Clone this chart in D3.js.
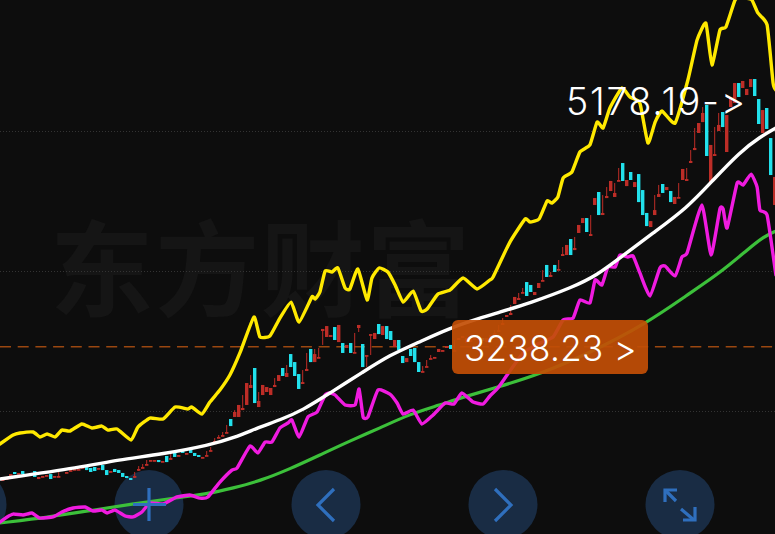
<!DOCTYPE html>
<html><head><meta charset="utf-8">
<script src="https://cdn.jsdelivr.net/npm/d3@7/dist/d3.min.js"></script>
<style>html,body{margin:0;padding:0;background:#0d0d0d;overflow:hidden}svg{display:block}text{font-variant-ligatures:none;font-feature-settings:"calt" 0,"liga" 0}</style>
</head><body><svg id="c" width="775" height="534"></svg>
<script>
const priceTop = 5750, priceBottom = 1878.5, lastBar = 193;
const gridPrices = [4800, 3785, 2770];
const refPrice = 3238.23;
const labelRef = "3238.23 >", labelHigh = "5178.19->", watermark = ["东","方","财","富"];
const buttons = ["", "+", "<", ">", "expand"];

const bodyHigh = [2277,2284,2313,2328,2321,2335,2313,2321,2335,2292,2299,2306,2313,2299,2299,2350,2328,2342,2350,2350,2364,2364,2357,2364,2357,2379,2342,2335,2350,2342,2321,2299,2284,2299,2350,2364,2386,2415,2415,2415,2408,2444,2429,2466,2451,2487,2466,2495,2466,2451,2437,2451,2487,2553,2582,2596,2618,2712,2763,2814,2792,2973,2959,3082,2843,2959,2944,2937,2959,3031,3082,3046,3183,3125,3038,2980,3075,3220,3183,3162,3365,3386,3321,3379,3394,3263,3249,3263,3198,3394,3256,3176,3328,3336,3401,3386,3386,3350,3285,3285,3169,3154,3220,3227,3125,3060,3096,3154,3162,3220,3212,3241,3249,3212,3299,3314,3299,3292,3299,3299,3299,3299,3321,3336,3357,3408,3466,3481,3597,3589,3633,3705,3684,3633,3698,3720,3829,3756,3829,3800,3908,3974,4017,3952,4119,4169,4169,4053,4314,4358,4206,4329,4438,4351,4445,4568,4445,4503,4430,4488,4372,4206,4147,4227,4343,4416,4394,4365,4322,4322,4525,4452,4583,4677,4858,4931,4989,4699,4633,4844,4938,4916,5047,5148,5148,5163,5105,5177,5177,5032,4952,4967,4749,4467];
const bodyLow = [2263,2270,2299,2313,2313,2313,2306,2313,2292,2277,2292,2299,2277,2292,2292,2335,2321,2335,2342,2342,2357,2342,2328,2335,2350,2342,2306,2328,2328,2321,2292,2284,2270,2292,2342,2357,2379,2408,2408,2400,2400,2400,2422,2437,2444,2466,2458,2466,2444,2437,2429,2444,2480,2545,2574,2589,2611,2661,2727,2727,2777,2814,2937,2828,2799,2886,2908,2886,2944,2988,3024,3017,3089,3024,2930,2966,3060,3125,3125,3154,3350,3307,3307,3285,3270,3191,3227,3191,3191,3372,3089,3169,3321,3292,3328,3321,3292,3285,3234,3212,3118,3125,3169,3125,3053,3053,3089,3147,3154,3198,3205,3227,3220,3205,3285,3299,3263,3270,3285,3285,3278,3270,3307,3321,3343,3394,3452,3466,3546,3575,3626,3604,3633,3611,3662,3713,3742,3742,3778,3792,3894,3901,3901,3937,4061,4133,4068,4039,4264,4191,4191,4314,4365,4322,4438,4438,4401,4445,4394,4285,4191,4111,4104,4191,4322,4351,4372,4285,4271,4314,4445,4438,4568,4662,4786,4865,4619,4430,4619,4800,4829,4648,4974,5003,5047,5112,5061,5119,5054,4851,4786,4815,4481,4264];
const fallingBars = [3,5,8,12,15,21,22,23,25,26,28,29,30,31,32,39,41,43,45,47,48,49,57,63,70,72,73,74,77,83,85,87,90,94,96,97,99,100,102,103,104,112,120,131,132,136,138,142,146,149,155,157,159,160,161,165,167,176,180,184,188,189,191,192];
const upperWicks = {14:2328,33:2328,34:2371,35:2386,36:2415,42:2458,51:2480,52:2509,53:2574,54:2596,55:2618,56:2669,58:2777,60:2886,62:3031,64:2908,68:3009,71:3104,75:3067,76:3191,78:3220,79:3227,88:3336,105:3096,106:3140,107:3176,113:3285,123:3357,124:3394,125:3444,127:3539,129:3626,130:3662,135:3792,137:3778,139:3865,140:3959,143:4032,147:4191,150:4336,151:4394,153:4423,154:4532,163:4336,164:4409,169:4423,171:4532,172:4662,173:4822,175:4974,178:4829,179:4931};
const lowerWicks = {33:2284,34:2335,80:3249,89:3343,91:3089,92:3176};

const yellowBars = [-0.7,2.6,4.3,7.6,9.3,11.1,13.1,14.8,16.8,19.8,22.3,24.8,26.3,28.6,32.1,33.8,36.8,40.1,43.1,46.3,47.3,49.8,51.8,54.3,56.8,59.3,62.8,64.3,66.8,69.3,72.1,74.1,77.3,78.1,79.3,80.6,82.3,83.8,85.6,86.8,88.8,91.1,92.3,94.1,96.3,98.1,100.1,102.6,104.6,106.1,108.8,111.8,115.1,118.6,121.8,122.6,126.8,130.6,131.8,134.1,136.1,137.3,138.8,140.1,142.3,144.3,146.8,148.6,150.1,151.8,154.8,156.8,159.3,161.3,163.1,164.8,168.1,171.3,173.6,175.8,177.3,179.3,180.8,183.1,184.8,185.8,187.3,188.8,191.1,192.6,193.3];
const yellowVals = [2531,2596,2611,2618,2582,2604,2582,2632,2625,2676,2647,2661,2632,2640,2560,2654,2719,2712,2799,2785,2799,2748,2835,2922,3031,3191,3452,3307,3314,3444,3560,3415,3597,3582,3633,3785,3778,3807,3662,3655,3800,3575,3734,3807,3778,3684,3560,3640,3495,3510,3618,3647,3734,3655,3720,3742,3995,4162,4140,4162,4293,4278,4322,4459,4503,4648,4699,4865,4822,4967,5112,5047,5003,4713,4865,4945,4858,5170,5460,5583,5279,5532,5554,5750,5779,5764,5750,5656,5569,5148,5097];
const whiteBars = [-0.7,20,28.6,40.1,51.8,57.6,64.3,69.3,75.1,81.8,90.1,96.8,103.6,111.8,119.3,123.6,131.8,142.6,148.6,154.3,162.6,171.1,177.6,184.3,189.3,193.3];
const whiteVals = [2277,2364,2415,2458,2524,2574,2654,2705,2777,2901,3053,3176,3263,3372,3444,3481,3553,3669,3756,3880,4061,4242,4445,4648,4757,4822];
const greenBars = [-0.7,11.8,22.6,32.6,41.1,51.1,57.6,64.3,71.8,79.3,86.8,94.3,101.8,109.3,114.3,123.8,134.3,146.8,161.1,171.1,179.3,186.1,190.1,193.3];
const greenVals = [1958,2002,2052,2096,2132,2168,2212,2263,2350,2451,2553,2647,2748,2814,2864,2944,3038,3191,3408,3611,3771,3937,4032,4075];
const magentaBars = [-0.7,1.1,2.6,5.1,7.3,9.3,12.6,14.8,17.6,20.6,22.6,24.8,26.1,28.1,30.6,32.6,34.8,36.8,40.1,43.6,46.8,49.3,51.3,54.3,57.3,58.6,61.8,63.8,65.6,67.3,69.3,71.3,72.3,74.1,76.3,78.6,80.6,81.8,83.1,85.6,88.1,89.1,90.1,91.3,93.8,96.8,98.6,100.1,102.6,104.8,107.6,110.6,112.8,114.8,117.6,120.1,121.8,123.8,126.1,130.1,134.3,137.6,140.1,142.6,144.3,146.8,148.1,149.8,151.3,153.1,154.3,156.3,157.6,159.3,161.8,164.3,165.6,168.1,169.8,171.1,174.8,177.1,179.3,180.1,181.1,183.6,185.1,187.1,188.6,189.3,191.1,193.3];
const magentaVals = [1965,2002,2023,2016,2031,1994,2002,2038,2067,2074,2045,2052,2031,2052,2009,2002,2038,2103,2096,2147,2161,2139,2147,2255,2342,2357,2516,2466,2545,2545,2647,2683,2705,2582,2727,2763,2886,2901,2886,2814,2814,2930,2727,2727,2922,2893,2828,2748,2777,2676,2741,2828,2821,2901,2835,2821,2879,2937,3031,3191,3263,3307,3430,3444,3575,3553,3720,3684,3814,3814,3901,3887,3894,3771,3604,3807,3821,3749,3887,3916,4264,3901,4235,4235,4097,4423,4409,4488,4394,4227,4191,3756];

const W = 775, H = 534;
const x = d3.scaleLinear().domain([0,lastBar]).range([2.7,774.7]);
const y = d3.scaleLinear().domain([priceTop,priceBottom]).range([0,H]);
const svg = d3.select("#c");
svg.append("rect").attr("width",W).attr("height",H).attr("fill","#0d0d0d");

// watermark
const wmPos = d3.scaleBand().domain(watermark).range([49,471]);
svg.append("g").selectAll("text").data(watermark).join("text")
  .attr("x",d=>wmPos(d)+wmPos.bandwidth()/2).attr("y",309).attr("text-anchor","middle")
  .attr("font-family","'Noto Sans CJK SC'").attr("font-weight",700).attr("font-size",104)
  .attr("fill","#151515").text(d=>d);

// grid
svg.append("g").selectAll("line").data(gridPrices).join("line")
  .attr("x1",0).attr("x2",W).attr("y1",d=>Math.round(y(d))+.5).attr("y2",d=>Math.round(y(d))+.5)
  .attr("stroke","#333").attr("stroke-width",1).attr("stroke-dasharray","1 2");

// reference line
svg.append("line").attr("x1",0).attr("x2",W).attr("y1",y(refPrice)+.3).attr("y2",y(refPrice)+.3)
  .attr("stroke","#9a4710").attr("stroke-width",1.3).attr("stroke-dasharray","11 6.7");

// button discs (under the lines)
const btnX = d3.scaleLinear().domain([0,4]).range([-28,680]);
svg.append("g").selectAll("circle").data(buttons).join("circle")
  .attr("cx",(d,i)=>btnX(i)).attr("cy",504.5).attr("r",34.5).attr("fill","#192c44");

// candles
const falling = new Set(fallingBars);
const RED = "#bd2d27", CYAN = "#22e1ec";
const candles = bodyHigh.map((h,i)=>({i,h,l:bodyLow[i],c:falling.has(i)?CYAN:RED,
  top:upperWicks[i]??h,bot:lowerWicks[i]??bodyLow[i]}));
const cg = svg.append("g");
cg.selectAll("line").data(candles).join("line")
  .attr("x1",d=>x(d.i)).attr("x2",d=>x(d.i)).attr("y1",d=>y(d.top)).attr("y2",d=>y(d.bot))
  .attr("stroke",d=>d.c).attr("stroke-width",1);
cg.selectAll("rect").data(candles).join("rect")
  .attr("x",d=>x(d.i)-1.7).attr("width",3.4).attr("y",d=>y(d.h))
  .attr("height",d=>Math.max(1.8,y(d.l)-y(d.h))).attr("fill",d=>d.c);

// lines
function drawLine(bars,vals,color,width,curve){
  const g = d3.line().x(d=>x(d[0])).y(d=>y(d[1])).curve(curve);
  svg.append("path").attr("d",g(bars.map((b,i)=>[b,vals[i]]))).attr("fill","none")
    .attr("stroke",color).attr("stroke-width",width).attr("stroke-linejoin","round").attr("stroke-linecap","round");
}
drawLine(greenBars,greenVals,"#3cc03a",3.2,d3.curveBasis);
drawLine(magentaBars,magentaVals,"#f01be0",3.4,d3.curveCardinal.tension(0.55));
drawLine(whiteBars,whiteVals,"#ffffff",3.4,d3.curveBasis);
drawLine(yellowBars,yellowVals,"#ffe900",3.4,d3.curveCardinal.tension(0.55));

// icons
const ICON = "#2f6fbd";
const icons = svg.append("g").attr("fill","none").attr("stroke",ICON).attr("stroke-width",3.2);
const b = i=>btnX(i);
icons.append("path").attr("d",`M${b(1)-16},504.5H${b(1)+17}M${b(1)},488V521`);
icons.append("path").attr("d",`M${b(2)+8},489L${b(2)-8},505L${b(2)+8},521`);
icons.append("path").attr("d",`M${b(3)-8},489L${b(3)+8},505L${b(3)-8},521`);
icons.append("path").attr("d",`M${b(4)-4},501L${b(4)-15},490 M${b(4)+1},509 L${b(4)+14},520`);
icons.append("path").attr("d",`M${b(4)-15},502V490H${b(4)-3}M${b(4)+15},507V520H${b(4)+3}`);

// last-price label
svg.append("rect").attr("x",452).attr("y",320).attr("width",196).attr("height",54).attr("rx",6)
  .attr("fill","#c24e05").attr("opacity",.92);
svg.append("text").attr("x",464).attr("y",361).attr("font-family","Inter").attr("font-weight",300)
  .attr("font-size",35).attr("letter-spacing",0.35).attr("fill","#fff").attr("xml:space","preserve").text(labelRef);
svg.append("text").attr("x",566).attr("y",115).attr("font-family","Inter").attr("font-weight",300)
  .attr("font-size",37.5).attr("letter-spacing",1.7).attr("fill","#fff").text(labelHigh);
</script></body></html>
